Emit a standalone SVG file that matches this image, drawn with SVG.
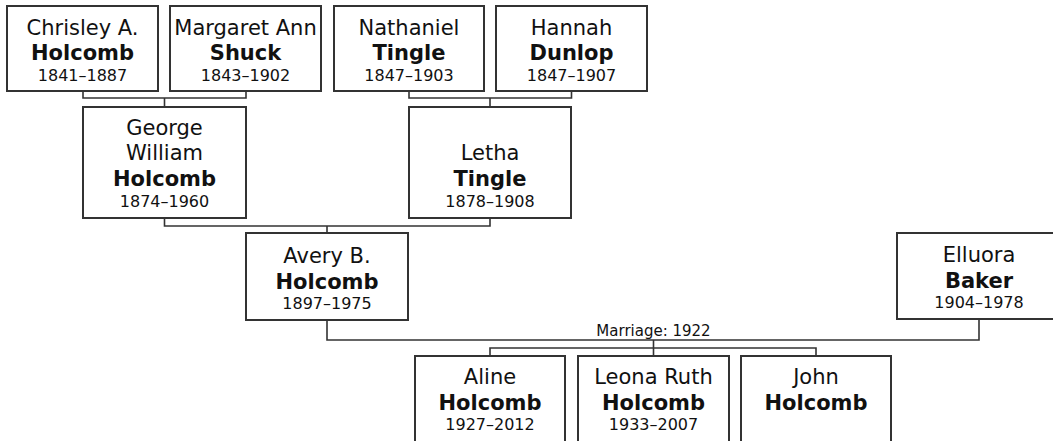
<svg xmlns="http://www.w3.org/2000/svg" width="1053" height="441" viewBox="0 0 1053 441">
<style>
.box{fill:#fff;stroke:#333;stroke-width:2}
.ln{fill:none;stroke:#333;stroke-width:1.6}
text{font-family:"DejaVu Sans","Verdana",sans-serif;fill:#111;text-anchor:middle}
.n{font-size:21px}
.b{font-size:21px;font-weight:bold}
.d{font-size:16px}
.m{font-size:15px}
</style>
<rect width="1053" height="441" fill="#fff"/>
<g id="connectors">
<path class="ln" d="M83 91V98H246V91M164.5 98V107"/>
<path class="ln" d="M409 91V98H571.5V91M490 98V107"/>
<path class="ln" d="M164.5 218V226H490V218M327 226V233"/>
<path class="ln" d="M327 320V340H979V319M653.5 340V348M490 356V348H816V356M653.5 348V356"/>
<text class="m" x="653.5" y="336">Marriage: 1922</text>
</g>
<g id="chrisley">
<rect class="box" x="7" y="6" width="151" height="85"/>
<text class="n" x="82.5" y="35">Chrisley A.</text>
<text class="b" x="82.5" y="60">Holcomb</text>
<text class="d" x="82.5" y="81">1841–1887</text>
</g>
<g id="margaret">
<rect class="box" x="170" y="6" width="151" height="85"/>
<text class="n" x="245.5" y="35">Margaret Ann</text>
<text class="b" x="245.5" y="60">Shuck</text>
<text class="d" x="245.5" y="81">1843–1902</text>
</g>
<g id="nathaniel">
<rect class="box" x="334" y="6" width="150" height="85"/>
<text class="n" x="409" y="35">Nathaniel</text>
<text class="b" x="409" y="60">Tingle</text>
<text class="d" x="409" y="81">1847–1903</text>
</g>
<g id="hannah">
<rect class="box" x="496" y="6" width="151" height="85"/>
<text class="n" x="571.5" y="35">Hannah</text>
<text class="b" x="571.5" y="60">Dunlop</text>
<text class="d" x="571.5" y="81">1847–1907</text>
</g>
<g id="george">
<rect class="box" x="83" y="107" width="163" height="111"/>
<text class="n" x="164.5" y="135">George</text>
<text class="n" x="164.5" y="160">William</text>
<text class="b" x="164.5" y="186">Holcomb</text>
<text class="d" x="164.5" y="207">1874–1960</text>
</g>
<g id="letha">
<rect class="box" x="409" y="107" width="162" height="111"/>
<text class="n" x="490" y="160">Letha</text>
<text class="b" x="490" y="186">Tingle</text>
<text class="d" x="490" y="207">1878–1908</text>
</g>
<g id="avery">
<rect class="box" x="246" y="233" width="162" height="87"/>
<text class="n" x="327" y="263">Avery B.</text>
<text class="b" x="327" y="289">Holcomb</text>
<text class="d" x="327" y="309">1897–1975</text>
</g>
<g id="elluora">
<rect class="box" x="897" y="233" width="164" height="86"/>
<text class="n" x="979" y="262">Elluora</text>
<text class="b" x="979" y="288">Baker</text>
<text class="d" x="979" y="308">1904–1978</text>
</g>
<g id="aline">
<rect class="box" x="415" y="356" width="150" height="100"/>
<text class="n" x="490" y="384">Aline</text>
<text class="b" x="490" y="410">Holcomb</text>
<text class="d" x="490" y="430">1927–2012</text>
</g>
<g id="leona">
<rect class="box" x="578" y="356" width="151" height="100"/>
<text class="n" x="653.5" y="384">Leona Ruth</text>
<text class="b" x="653.5" y="410">Holcomb</text>
<text class="d" x="653.5" y="430">1933–2007</text>
</g>
<g id="john">
<rect class="box" x="741" y="356" width="150" height="100"/>
<text class="n" x="816" y="384">John</text>
<text class="b" x="816" y="410">Holcomb</text>
</g>
</svg>
